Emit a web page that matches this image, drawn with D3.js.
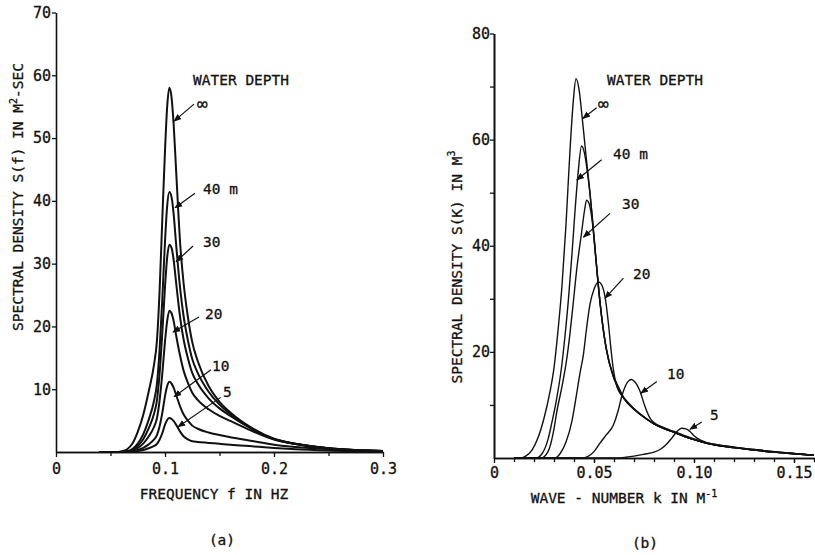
<!DOCTYPE html>
<html>
<head>
<meta charset="utf-8">
<script src="https://cdn.jsdelivr.net/npm/d3@7"></script>
<style>
  body { margin: 0; background: #fff; }
  svg { display: block; }
  text { font-family: "DejaVu Sans Mono", "Liberation Mono", monospace; fill: #111; stroke: #111; stroke-width: 0.3px; }
</style>
</head>
<body>
<svg id="chart" width="815" height="555"></svg>
<script>
// ---- (a) frequency spectrum S(f) ----
const freqHz = [0.04, 0.055, 0.06, 0.065, 0.07, 0.075, 0.08, 0.085, 0.09, 0.0925, 0.095, 0.0975,
  0.1, 0.102, 0.104, 0.106, 0.108, 0.11, 0.114, 0.117, 0.121, 0.125, 0.13, 0.14, 0.15, 0.16,
  0.18, 0.2, 0.22, 0.25, 0.3];
const sfInf = [0, 0, 0.1, 0.4, 1.3, 3.2, 5.9, 9.6, 14.0, 17.5, 25.5, 37, 48, 55, 58, 56.5, 52, 45.5,
  33, 27, 21.5, 17.5, 14.5, 10.5, 8.0, 6.3, 3.8, 2.1, 1.3, 0.6, 0.15];
const sf40 = [0, 0, 0.03, 0.13, 0.48, 1.35, 2.82, 5.12, 8.21, 10.7, 16.2, 24.3, 33.5, 39.2, 41.4, 40.6,
  37.8, 33.5, 25.9, 21.7, 17.8, 14.8, 12.6, 9.6, 7.55, 6.05, 3.7, 2.07, 1.29, 0.6, 0.15];
const sf30 = [0, 0, 0.02, 0.09, 0.35, 0.98, 2.04, 3.75, 6.14, 8.1, 12.4, 18.9, 26.3, 31.0, 33.0, 32.5,
  30.5, 27.3, 21.3, 18.0, 14.95, 12.6, 10.9, 8.55, 6.95, 5.75, 3.65, 2.05, 1.28, 0.6, 0.15];
const sf20 = [0, 0, 0.01, 0.06, 0.23, 0.64, 1.33, 2.46, 4.02, 5.3, 8.15, 12.45, 17.6, 20.9, 22.5, 22.1,
  20.8, 18.8, 15.2, 13.0, 11.0, 9.45, 8.3, 6.8, 5.75, 4.95, 3.35, 2.0, 1.27, 0.6, 0.15];
const sf10 = [0, 0, 0.01, 0.03, 0.11, 0.32, 0.67, 1.22, 2.0, 2.64, 4.07, 6.2, 8.9, 10.5, 11.2, 10.9,
  10.2, 9.2, 7.2, 6.0, 5.0, 4.2, 3.7, 3.1, 2.7, 2.35, 1.75, 1.15, 0.8, 0.45, 0.12];
const sf5 = [0, 0, 0, 0.01, 0.05, 0.15, 0.32, 0.59, 0.97, 1.27, 1.96, 2.99, 4.35, 5.1, 5.4, 5.25,
  4.9, 4.4, 3.2, 2.5, 2.0, 1.7, 1.6, 1.45, 1.3, 1.15, 0.9, 0.65, 0.45, 0.25, 0.05];

// ---- (b) wave-number spectrum S(k) ----
const kInf = [0.010, 0.0135, 0.016, 0.019, 0.022, 0.025, 0.028, 0.030, 0.032, 0.034, 0.036, 0.038,
  0.0397, 0.041, 0.0425, 0.044, 0.046, 0.048, 0.050, 0.052, 0.054, 0.056, 0.058, 0.060, 0.0625,
  0.065, 0.070, 0.076, 0.080, 0.085, 0.090, 0.095, 0.100, 0.106, 0.110, 0.120, 0.130, 0.140, 0.150, 0.160];
const skInf = [0, 0, 0.4, 1.5, 3.8, 7.5, 12.5, 17, 24, 32.5, 44, 58, 67.5, 71.5, 69.5, 64.5, 57, 50,
  41.5, 33, 26, 21, 17.5, 15.2, 13.2, 11.3, 9.3, 7.5, 6.5, 5.6, 4.9, 4.1, 3.5, 2.8, 2.5, 1.95, 1.5, 1.1, 0.8, 0.5];
const k40 = [0.010, 0.021, 0.024, 0.027, 0.029, 0.031, 0.0338, 0.0355, 0.0372, 0.039, 0.0405, 0.042,
  0.0438, 0.0452, 0.047, 0.049, 0.051, 0.053, 0.056, 0.060, 0.065, 0.070, 0.076, 0.080, 0.085, 0.090,
  0.095, 0.100, 0.106, 0.110, 0.120, 0.130, 0.140, 0.150, 0.160];
const sk40 = [0, 0, 0.8, 3.5, 6.8, 10.5, 17.2, 23.0, 29.8, 38.5, 46.5, 53.5, 58.8, 57.5, 53, 46, 37.5,
  29.5, 20.8, 15.0, 11.2, 9.2, 7.4, 6.45, 5.55, 4.85, 4.1, 3.45, 2.8, 2.5, 1.95, 1.5, 1.1, 0.8, 0.5];
const k30 = [0.010, 0.0235, 0.027, 0.030, 0.0313, 0.034, 0.0363, 0.038, 0.0397, 0.0415, 0.0438, 0.0452,
  0.0463, 0.0475, 0.049, 0.051, 0.053, 0.056, 0.060, 0.065, 0.070, 0.076, 0.080, 0.085, 0.090, 0.095,
  0.100, 0.106, 0.110, 0.120, 0.130, 0.140, 0.150, 0.160];
const sk30 = [0, 0, 1.2, 5.5, 8.5, 13.5, 18.5, 23.5, 29.5, 36, 42.5, 46.5, 48.6, 48, 45, 37.3, 29.3,
  20.8, 15, 11.2, 9.2, 7.4, 6.45, 5.55, 4.85, 4.1, 3.45, 2.8, 2.5, 1.95, 1.5, 1.1, 0.8, 0.5];
const k20 = [0.010, 0.0305, 0.033, 0.036, 0.039, 0.0415, 0.043, 0.0447, 0.0463, 0.048, 0.050, 0.0522,
  0.054, 0.0555, 0.0572, 0.0585, 0.0597, 0.0615, 0.063, 0.065, 0.070, 0.076, 0.080, 0.085, 0.090,
  0.095, 0.100, 0.106, 0.110, 0.120, 0.130, 0.140, 0.150, 0.160];
const sk20 = [0, 0, 0.8, 3.0, 7.0, 12.5, 16.0, 19.5, 24.5, 29.0, 31.8, 33.2, 32.5, 30.4, 25.4, 20.5,
  16.6, 13.4, 12.2, 11.3, 9.3, 7.45, 6.45, 5.55, 4.85, 4.1, 3.45, 2.8, 2.5, 1.95, 1.5, 1.1, 0.8, 0.5];
const k10 = [0.010, 0.044, 0.047, 0.050, 0.053, 0.056, 0.0597, 0.062, 0.0638, 0.066, 0.0675, 0.0688,
  0.070, 0.0715, 0.073, 0.0755, 0.078, 0.080, 0.085, 0.090, 0.095, 0.100, 0.106, 0.110, 0.120, 0.130,
  0.140, 0.150, 0.160];
const sk10 = [0, 0, 0.3, 1.2, 2.8, 4.3, 6.2, 8.8, 11.5, 13.8, 14.6, 14.8, 14.5, 13.8, 12.6, 9.7, 7.5,
  6.7, 5.7, 5.0, 4.25, 3.6, 2.9, 2.6, 2.05, 1.6, 1.2, 0.85, 0.55];
const k5 = [0.010, 0.061, 0.066, 0.070, 0.075, 0.080, 0.083, 0.086, 0.089, 0.0915, 0.0938, 0.096,
  0.098, 0.100, 0.103, 0.106, 0.110, 0.120, 0.130, 0.140, 0.150, 0.160];
const sk5 = [0, 0, 0.15, 0.35, 0.7, 1.1, 1.6, 2.5, 3.8, 5.0, 5.6, 5.5, 5.0, 4.2, 3.4, 2.95, 2.6,
  2.05, 1.6, 1.2, 0.85, 0.55];

// tick values / labels
const fTicks = [0, 0.1, 0.2, 0.3];
const fMinor = [0.05, 0.15, 0.25];
const sfTicks = [10, 20, 30, 40, 50, 60, 70];
const kTicks = [0, 0.05, 0.10, 0.15];
const kTickLabels = ["0", "0.05", "0.10", "0.15"];
const kMinor = d3.range(1, 17).map(d => d / 100);
const skTicks = [20, 40, 60, 80];
const skMinor = [10, 30, 50, 70];

const svg = d3.select("#chart");
const FONT = 14.5;

// arrow head
svg.append("defs").append("marker")
    .attr("id", "arr")
    .attr("viewBox", "0 0 10 10")
    .attr("refX", 9).attr("refY", 5)
    .attr("markerWidth", 8).attr("markerHeight", 8)
    .attr("markerUnits", "userSpaceOnUse")
    .attr("orient", "auto")
  .append("path")
    .attr("d", "M0,1 L10,5 L0,9 z")
    .attr("fill", "#111");

// scales
const xL = d3.scaleLinear().domain([0, 0.3]).range([56, 383]);
const yL = d3.scaleLinear().domain([0, 70]).range([452, 12.5]);
const xR = d3.scaleLinear().domain([0, 0.16]).range([494, 814]);
const yR = d3.scaleLinear().domain([0, 80]).range([458, 33.5]);

function styleAxis(g) {
  g.selectAll("path.domain").attr("stroke", "#111").attr("stroke-width", 1.6);
  g.selectAll(".tick line").attr("stroke", "#111").attr("stroke-width", 1.3);
  g.selectAll(".tick text").attr("font-family", "DejaVu Sans Mono").attr("font-size", 15).attr("fill", "#111");
}

// ---------- panel (a) ----------
const gA = svg.append("g");

gA.append("g")
    .attr("transform", "translate(0," + yL(0) + ")")
    .call(d3.axisBottom(xL).tickValues(fMinor).tickSize(4).tickSizeOuter(0).tickFormat(""))
    .call(styleAxis);
gA.append("g")
    .attr("transform", "translate(0," + yL(0) + ")")
    .call(d3.axisBottom(xL).tickValues(fTicks).tickSize(5).tickSizeOuter(0)
      .tickFormat(d => d === 0 ? "0" : d3.format(".1f")(d)))
    .call(styleAxis)
    .call(g => g.selectAll(".tick text").attr("dy", "0.95em"));
gA.append("g")
    .attr("transform", "translate(" + xL(0) + ",0)")
    .call(d3.axisLeft(yL).tickValues(sfTicks).tickSize(4).tickSizeOuter(0).tickPadding(1))
    .call(styleAxis);

const lineA = d3.line()
    .x((d, i) => xL(freqHz[i]))
    .y(d => yL(d))
    .curve(d3.curveMonotoneX);

[sfInf, sf40, sf30, sf20, sf10, sf5].forEach(s => {
  gA.append("path")
      .attr("d", lineA(s))
      .attr("fill", "none")
      .attr("stroke", "#111")
      .attr("stroke-width", 2);
});

// ---------- panel (b) ----------
const gB = svg.append("g");

gB.append("g")
    .attr("transform", "translate(0," + yR(0) + ")")
    .call(d3.axisBottom(xR).tickValues(kMinor).tickSize(4).tickSizeOuter(0).tickFormat(""))
    .call(styleAxis);
gB.append("g")
    .attr("transform", "translate(0," + yR(0) + ")")
    .call(d3.axisBottom(xR).tickValues(kTicks).tickSize(5).tickSizeOuter(0)
      .tickFormat((d, i) => kTickLabels[i]))
    .call(styleAxis)
    .call(g => g.selectAll(".tick text").attr("dy", "0.8em"));
gB.append("g")
    .attr("transform", "translate(" + xR(0) + ",0)")
    .call(d3.axisLeft(yR).tickValues(skMinor).tickSize(4).tickSizeOuter(0).tickFormat(""))
    .call(styleAxis);
gB.append("g")
    .attr("transform", "translate(" + xR(0) + ",0)")
    .call(d3.axisLeft(yR).tickValues(skTicks).tickSize(4).tickSizeOuter(0).tickPadding(0))
    .call(styleAxis);

const lineB = d3.line()
    .x(d => xR(d[0]))
    .y(d => yR(d[1]))
    .curve(d3.curveMonotoneX);

[[kInf, skInf], [k40, sk40], [k30, sk30], [k20, sk20], [k10, sk10], [k5, sk5]].forEach(([k, s]) => {
  gB.append("path")
      .attr("d", lineB(d3.zip(k, s)))
      .attr("fill", "none")
      .attr("stroke", "#111")
      .attr("stroke-width", 1.4);
});

// ---------- depth labels with arrows (data units) ----------
const notesA = [
  {t: "∞",    at: [0.1294, 54.4], from: [0.1266, 55.4], to: [0.1083, 52.7]},
  {t: "40 m", at: [0.1349, 41.1], from: [0.1275, 41.2], to: [0.1092, 38.9]},
  {t: "30",   at: [0.1349, 32.6], from: [0.1257, 32.8], to: [0.1101, 30.3]},
  {t: "20",   at: [0.1367, 21.2], from: [0.1312, 21.5], to: [0.1073, 19.1]},
  {t: "10",   at: [0.1431, 12.9], from: [0.1422, 13.1], to: [0.1083, 8.8]},
  {t: "5",    at: [0.1532, 8.8],  from: [0.1511, 8.7],  to: [0.1119, 4.0]}
];
const notesB = [
  {t: "∞",    at: [0.0520, 65.6], from: [0.0513, 66.0], to: [0.0444, 64.0]},
  {t: "40 m", at: [0.0595, 56.4], from: [0.0538, 56.2], to: [0.0414, 52.4]},
  {t: "30",   at: [0.0640, 46.9], from: [0.0580, 46.1], to: [0.0447, 41.6]},
  {t: "20",   at: [0.0695, 33.7], from: [0.0647, 33.9], to: [0.0555, 30.1]},
  {t: "10",   at: [0.0865, 14.9], from: [0.0814, 14.4], to: [0.0734, 12.2]},
  {t: "5",    at: [0.1080, 7.2],  from: [0.1039, 6.8],  to: [0.0980, 5.4]}
];

function drawNotes(g, notes, x, y) {
  notes.forEach(n => {
    g.append("line")
        .attr("x1", x(n.from[0])).attr("y1", y(n.from[1]))
        .attr("x2", x(n.to[0])).attr("y2", y(n.to[1]))
        .attr("stroke", "#111").attr("stroke-width", 1.2)
        .attr("marker-end", "url(#arr)");
    g.append("text")
        .attr("x", x(n.at[0])).attr("y", y(n.at[1]))
        .attr("font-size", n.t === "∞" ? 18 : FONT)
        .text(n.t);
  });
}
drawNotes(gA, notesA, xL, yL);
drawNotes(gB, notesB, xR, yR);

gA.append("text").attr("x", xL(0.1257)).attr("y", yL(58.4)).attr("font-size", FONT).text("WATER DEPTH");
gB.append("text").attr("x", xR(0.0565)).attr("y", yR(70.3)).attr("font-size", FONT).text("WATER DEPTH");

// ---------- axis titles ----------
gA.append("text")
    .attr("x", 214).attr("y", 499)
    .attr("text-anchor", "middle").attr("font-size", FONT)
    .text("FREQUENCY f IN HZ");
gA.append("text")
    .attr("x", 222).attr("y", 545)
    .attr("text-anchor", "middle").attr("font-size", FONT)
    .text("(a)");

const ya = gA.append("text")
    .attr("transform", "translate(23,197) rotate(-90)")
    .attr("text-anchor", "middle").attr("font-size", FONT);
ya.append("tspan").text("SPECTRAL DENSITY S(f) IN M");
ya.append("tspan").attr("dy", -6).attr("font-size", 10).text("2");
ya.append("tspan").attr("dy", 6).text("-SEC");

const xb = gB.append("text")
    .attr("x", 624).attr("y", 503)
    .attr("text-anchor", "middle").attr("font-size", FONT);
xb.append("tspan").text("WAVE - NUMBER k IN M");
xb.append("tspan").attr("dy", -6).attr("font-size", 10).text("-1");

gB.append("text")
    .attr("x", 645).attr("y", 548)
    .attr("text-anchor", "middle").attr("font-size", FONT)
    .text("(b)");

const yb = gB.append("text")
    .attr("transform", "translate(462,267) rotate(-90)")
    .attr("text-anchor", "middle").attr("font-size", FONT);
yb.append("tspan").text("SPECTRAL DENSITY S(K) IN M");
yb.append("tspan").attr("dy", -7).attr("font-size", 10).text("3");
</script>
</body>
</html>
